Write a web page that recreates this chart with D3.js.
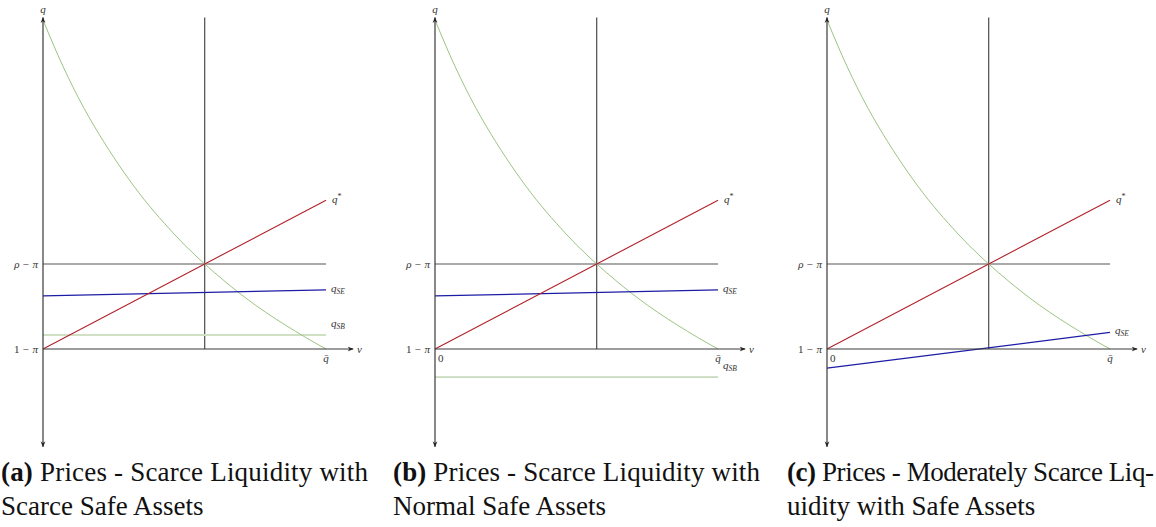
<!DOCTYPE html>
<html>
<head>
<meta charset="utf-8">
<script src="https://cdn.jsdelivr.net/npm/d3@7"></script>
</head>
<body style="margin:0; background:#fff">
<script>
// dimensions
const width = 1156;
const height = 527;
const serif = "Liberation Serif";

// model values (nu on x, q on y; 1-pi = 0, rho-pi = 2)
const nuMax = 7;
const nuStar = 4;
const qLow = 0;          // 1 - pi
const qMid = 2;          // rho - pi
const axisTop = 7.8;
const axisBottom = -2.3;
const axisRight = 7.67;

// downward sloping demand curve
const curveNu = [0, 0.5, 1, 1.5, 2, 2.5, 3, 3.5, 4, 4.5, 5, 5.5, 6, 6.5, 7];
const curveQ = [7.74, 6.64, 5.69, 4.88, 4.16, 3.52, 2.96, 2.45, 2.0, 1.59, 1.21, 0.87, 0.56, 0.27, 0];

// q* line, endpoints at nu = 0 and nu = 7
const qStar = [0, 3.5];

// one entry per panel
const panelNames = ["a", "b", "c"];
const panelLeft = [43, 435, 827];
const qSE = [[1.25, 1.39], [1.25, 1.39], [-0.45, 0.39]];
const qSB = [0.33, -0.66, null];
const showZero = [false, true, true];
const captionBold = ["(a)", "(b)", "(c)"];
const captionLine1 = [" Prices - Scarce Liquidity with", " Prices - Scarce Liquidity with", " Prices - Moderately Scarce Liq-"];
const captionLine2 = ["Scarce Safe Assets", "Normal Safe Assets", "uidity with Safe Assets"];
const captionLeft = [1, 393, 787];

const colors = {
    axis: "#3a3a3a",
    level: "#555",
    red: "#b3202a",
    blue: "#1c1ca6",
    green: "#9cc483",
    sbA: "#cfe0c4",
    sbB: "#9fbf8c",
    text: "#333"
};

const svg = d3.select("body")
    .append("svg")
    .attr("width", width)
    .attr("height", height);

svg.append("defs").append("marker")
    .attr("id", "arr")
    .attr("viewBox", "0 0 10 10")
    .attr("refX", 9).attr("refY", 5)
    .attr("markerWidth", 6).attr("markerHeight", 6)
    .attr("markerUnits", "userSpaceOnUse")
    .attr("orient", "auto-start-reverse")
    .append("path")
    .attr("d", "M0,1 L10,5 L0,9 L3,5 Z")
    .attr("fill", "#222");

const y = d3.scaleLinear().domain([qLow, qMid]).range([349, 264]);

// small italic math label
function mathLabel(g, px, py, anchor) {
    return g.append("text")
        .attr("x", px).attr("y", py)
        .attr("text-anchor", anchor || "start")
        .attr("font-family", serif)
        .attr("font-style", "italic")
        .attr("font-size", 11)
        .attr("fill", colors.text);
}

panelNames.forEach(function (name, i) {
    const x = d3.scaleLinear().domain([0, nuMax]).range([panelLeft[i], panelLeft[i] + 283]);
    const g = svg.append("g").attr("class", "panel-" + name);
    const line = d3.line().x(d => x(d[0])).y(d => y(d[1]));

    // vertical line at nu*
    g.append("line")
        .attr("x1", x(nuStar)).attr("x2", x(nuStar))
        .attr("y1", y(axisTop)).attr("y2", y(qLow))
        .attr("stroke", colors.axis).attr("stroke-width", 1.1);

    // rho - pi level
    g.append("line")
        .attr("x1", x(0)).attr("x2", x(nuMax))
        .attr("y1", y(qMid)).attr("y2", y(qMid))
        .attr("stroke", colors.level).attr("stroke-width", 1.2);

    // q_SB level
    if (qSB[i] !== null) {
        g.append("line")
            .attr("x1", x(0)).attr("x2", x(nuMax))
            .attr("y1", y(qSB[i])).attr("y2", y(qSB[i]))
            .attr("stroke", i === 0 ? colors.sbA : colors.sbB)
            .attr("stroke-width", i === 0 ? 2 : 1);
    }

    // demand curve
    g.append("path")
        .datum(curveNu.map((n, k) => [n, curveQ[k]]))
        .attr("d", d3.line().x(d => x(d[0])).y(d => y(d[1])).curve(d3.curveMonotoneX))
        .attr("fill", "none")
        .attr("stroke", colors.green).attr("stroke-width", 1);

    // q_SE
    g.append("path")
        .datum([[0, qSE[i][0]], [nuMax, qSE[i][1]]])
        .attr("d", line)
        .attr("fill", "none")
        .attr("stroke", colors.blue).attr("stroke-width", 1.2);

    // q*
    g.append("path")
        .datum([[0, qStar[0]], [nuMax, qStar[1]]])
        .attr("d", line)
        .attr("fill", "none")
        .attr("stroke", colors.red).attr("stroke-width", 1.1);

    // axes
    g.append("line")
        .attr("x1", x(0)).attr("x2", x(0))
        .attr("y1", y(axisBottom)).attr("y2", y(axisTop))
        .attr("stroke", colors.axis).attr("stroke-width", 1.2)
        .attr("marker-start", "url(#arr)")
        .attr("marker-end", "url(#arr)");
    g.append("line")
        .attr("x1", x(0)).attr("x2", x(axisRight))
        .attr("y1", y(qLow)).attr("y2", y(qLow))
        .attr("stroke", colors.axis).attr("stroke-width", 1.2)
        .attr("marker-end", "url(#arr)");

    // labels
    mathLabel(g, x(0), y(axisTop) - 5, "middle").text("q");
    mathLabel(g, x(axisRight) + 4, y(qLow) + 3.5).text("ν");
    mathLabel(g, x(0) - 5, y(qMid) + 3.5, "end").text("ρ − π");
    const lo = mathLabel(g, x(0) - 5, y(qLow) + 3.5, "end");
    lo.append("tspan").attr("font-style", "normal").text("1 ");
    lo.append("tspan").text("− π");
    mathLabel(g, x(nuMax), y(qLow) + 13, "middle").text("q̄");

    if (showZero[i]) {
        mathLabel(g, x(0) + 3, y(qLow) + 13).attr("font-style", "normal").text("0");
    }

    const qs = mathLabel(g, x(nuMax) + 6, y(qStar[1]) + 3);
    qs.append("tspan").text("q");
    qs.append("tspan").attr("font-style", "normal").attr("dy", -4).attr("font-size", 8).text("*");

    const se = mathLabel(g, x(nuMax) + 5, y(qSE[i][1]) + 2);
    se.append("tspan").text("q");
    se.append("tspan").attr("dy", 2).attr("font-size", 7.5).text("SE");

    if (qSB[i] !== null) {
        const sb = mathLabel(g, x(nuMax) + 5, y(qSB[i]) - 8);
        sb.append("tspan").text("q");
        sb.append("tspan").attr("dy", 2).attr("font-size", 7.5).text("SB");
    }

    // caption, first line justified to the column width
    const c1 = g.append("text")
        .attr("x", captionLeft[i]).attr("y", 481)
        .attr("font-family", serif).attr("font-size", 27).attr("fill", "#111")
        .attr("textLength", 367).attr("lengthAdjust", "spacing");
    c1.append("tspan").attr("font-weight", "bold").text(captionBold[i]);
    c1.append("tspan").text(captionLine1[i]);
    g.append("text")
        .attr("x", captionLeft[i]).attr("y", 515)
        .attr("font-family", serif).attr("font-size", 27).attr("fill", "#111")
        .text(captionLine2[i]);
});
</script>
</body>
</html>
